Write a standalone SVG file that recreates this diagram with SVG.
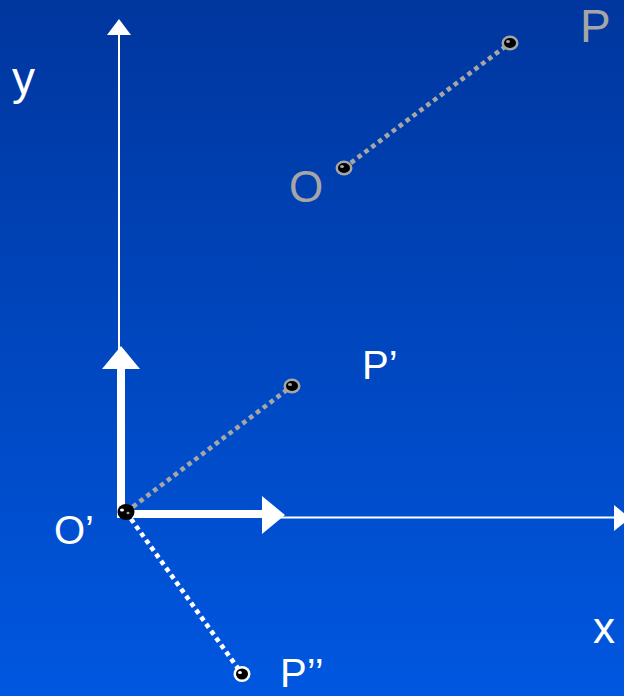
<svg xmlns="http://www.w3.org/2000/svg" width="624" height="696" viewBox="0 0 624 696">
<defs>
<linearGradient id="bg" x1="0" y1="0" x2="0" y2="1">
<stop offset="0" stop-color="#00369e"/>
<stop offset="1" stop-color="#0057e0"/>
</linearGradient>
<style>
.lbl{font-family:"Liberation Sans",Arial,sans-serif;fill:#ffffff}
.gray{fill:#a6a6a6}
.dotg{stroke:#a6a6a6;stroke-width:4.6;stroke-dasharray:4.6 4;fill:none}
.dotw{stroke:#ffffff;stroke-width:4.6;stroke-dasharray:4.6 4;fill:none}
.ax{stroke:#ffffff;fill:none}
.hd{fill:#ffffff}
</style>
</defs>
<rect x="0" y="0" width="624" height="696" fill="url(#bg)"/>
<g id="axes">
<line class="ax" x1="119" y1="35" x2="119" y2="370" stroke-width="2"/>
<polygon class="hd" points="107,35 131,35 119,19"/>
<line class="ax" x1="280" y1="517.5" x2="615" y2="517.5" stroke-width="2"/>
<polygon class="hd" points="614,505 614,531 630,518"/>
<rect class="hd" x="117" y="368" width="8" height="150"/>
<polygon class="hd" points="102,369 140,369 121,346"/>
<rect class="hd" x="117" y="510" width="146" height="8"/>
<polygon class="hd" points="262,496 262,534 285,515"/>
</g>
<g id="connectors">
<line class="dotg" x1="344" y1="168" x2="510" y2="43"/>
<line class="dotg" x1="126" y1="512" x2="292" y2="386"/>
<line class="dotw" x1="126" y1="512" x2="242" y2="674"/>
</g>
<g id="P">
<ellipse cx="510" cy="43" rx="8.5" ry="7.5" fill="#a6a6a6"/>
<ellipse cx="510" cy="43" rx="6" ry="5" fill="#000000"/>
<ellipse cx="508" cy="41.5" rx="2" ry="1.5" fill="#a6a6a6"/>
<text class="lbl gray" x="580" y="42" font-size="46">P</text>
</g>
<g id="O">
<ellipse cx="344" cy="168" rx="8.5" ry="7.5" fill="#a6a6a6"/>
<ellipse cx="344" cy="168" rx="6" ry="5" fill="#000000"/>
<ellipse cx="342" cy="166.5" rx="2" ry="1.5" fill="#a6a6a6"/>
<text class="lbl gray" x="289" y="202" font-size="44">O</text>
</g>
<g id="Pprime">
<ellipse cx="292" cy="386" rx="8.5" ry="7.5" fill="#a6a6a6"/>
<ellipse cx="292" cy="386" rx="6" ry="5" fill="#000000"/>
<ellipse cx="290" cy="384.5" rx="2" ry="1.5" fill="#a6a6a6"/>
<text class="lbl" x="362" y="379" font-size="40">P’</text>
</g>
<g id="Oprime">
<ellipse cx="126" cy="512" rx="8.5" ry="8" fill="#000000"/>
<ellipse cx="122" cy="510" rx="2" ry="1.5" fill="#ffffff"/>
<ellipse cx="128" cy="513" rx="1.5" ry="1.2" fill="#a6a6a6"/>
<text class="lbl" x="54" y="544" font-size="40">O’</text>
</g>
<g id="Pdprime">
<ellipse cx="242" cy="674" rx="8.5" ry="8" fill="#ffffff"/>
<ellipse cx="242" cy="674" rx="6" ry="5.5" fill="#000000"/>
<ellipse cx="240" cy="672.5" rx="2" ry="1.5" fill="#ffffff"/>
<text class="lbl" x="280" y="687" font-size="40">P’’</text>
</g>
<g id="ylabel">
<text class="lbl" x="12" y="94" font-size="46">y</text>
</g>
<g id="xlabel">
<text class="lbl" x="593" y="643" font-size="44">x</text>
</g>
</svg>
